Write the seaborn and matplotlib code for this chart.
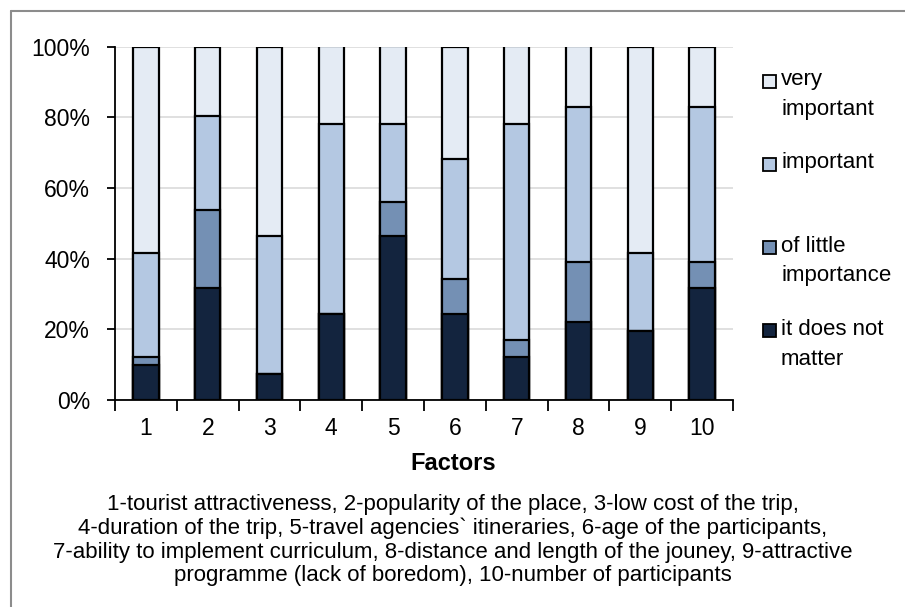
import matplotlib
matplotlib.use("Agg")
import matplotlib.pyplot as plt
from matplotlib.patches import Rectangle
from matplotlib.lines import Line2D
import numpy as np
import pandas as pd
import seaborn as sns

# Factor numbers on the x axis
factors = ["1", "2", "3", "4", "5", "6", "7", "8", "9", "10"]

# Share of answers (%) per importance level, bottom to top
not_matter = [9.8, 31.7, 7.3, 24.4, 46.3, 24.4, 12.2, 22.0, 19.5, 31.7]
little = [2.4, 22.0, 0.0, 0.0, 9.8, 9.8, 4.9, 17.1, 0.0, 7.3]
important = [29.3, 26.8, 39.0, 53.7, 22.0, 34.1, 61.0, 43.9, 22.0, 43.9]
very_important = [58.5, 19.5, 53.7, 22.0, 22.0, 31.7, 22.0, 17.1, 58.5, 17.1]

levels = ["it does not\nmatter", "of little\nimportance", "important", "very\nimportant"]
colors = ["#13243E", "#7490B4", "#B4C8E2", "#E4EBF4"]

caption = ("1-tourist attractiveness, 2-popularity of the place, 3-low cost of the trip,\n"
           "4-duration of the trip, 5-travel agencies` itineraries, 6-age of the participants,\n"
           "7-ability to implement curriculum, 8-distance and length of the jouney, 9-attractive\n"
           "programme (lack of boredom), 10-number of participants")

sns.set_theme(style="white")
plt.rcParams["font.family"] = ["Liberation Sans Narrow", "Liberation Sans", "DejaVu Sans"]
plt.rcParams["text.color"] = "black"
plt.rcParams["xtick.color"] = "black"
plt.rcParams["ytick.color"] = "black"

W, H = 905, 607
fig = plt.figure(figsize=(W / 100, H / 100), dpi=100)
ax = fig.add_axes([115 / W, 1 - 400 / H, (733 - 115) / W, (400 - 46.7) / H])

# Stacked bars: draw cumulative totals from the top level down
series = [not_matter, little, important, very_important]
cum = np.cumsum(np.array(series), axis=0)
for i in range(len(series) - 1, -1, -1):
    df = pd.DataFrame({"factor": factors, "value": cum[i]})
    sns.barplot(data=df, x="factor", y="value", color=colors[i], saturation=1,
                width=0.41, edgecolor="black", linewidth=1.6, ax=ax, zorder=3)

ax.set_ylim(0, 100)
ax.set_xlim(-0.5, len(factors) - 0.5)
ax.set_yticks(range(0, 101, 20))
ax.set_yticklabels([f"{v}%" for v in range(0, 101, 20)])
ax.yaxis.grid(True, color="#DADADA", linewidth=1.2, zorder=0)
ax.xaxis.grid(False)
ax.set_axisbelow(True)
for s in ["top", "right"]:
    ax.spines[s].set_visible(False)
for s in ["left", "bottom"]:
    ax.spines[s].set_color("black")
    ax.spines[s].set_linewidth(1.3)
ax.tick_params(axis="y", which="major", left=True, length=6, width=1.3, color="black",
               pad=12, labelsize=16.5, labelcolor="black")
ax.set_xticks(np.arange(len(factors)))
ax.set_xticklabels(factors)
ax.set_xticks(np.arange(-0.5, len(factors)), minor=True)
ax.tick_params(axis="x", which="major", bottom=False, length=0, pad=12, labelsize=16.5,
               labelcolor="black")
ax.tick_params(axis="x", which="minor", bottom=True, direction="out", length=8,
               width=1.3, color="black")
ax.set_xlabel("")
ax.set_ylabel("")

fig.text(453 / W, 1 - 463 / H, "Factors", ha="center", va="center",
         fontsize=17, fontweight="bold")
fig.text(453 / W, 1 - 540 / H, caption, ha="center", va="center",
         fontsize=16, linespacing=1.16)

# Legend, top entry first
leg_order = [3, 2, 1, 0]
for k, idx in enumerate(leg_order):
    yc = 81 + 83.3 * k
    fig.patches.append(Rectangle((763 / W, 1 - (yc + 6.5) / H), 13 / W, 13 / H,
                                 transform=fig.transFigure, facecolor=colors[idx],
                                 edgecolor="black", linewidth=1.3))
    fig.text(781 / W, 1 - (yc - 12) / H, levels[idx], ha="left", va="top",
             fontsize=16, linespacing=1.55)

# Outer frame (left and top edges)
fig.lines.append(Line2D([10.5 / W, 10.5 / W], [0, 1 - 10.5 / H],
                        transform=fig.transFigure, color="#8C8C8C", linewidth=1.5))
fig.lines.append(Line2D([10.5 / W, 1], [1 - 10.5 / H, 1 - 10.5 / H],
                        transform=fig.transFigure, color="#8C8C8C", linewidth=1.5))

fig.savefig("out.png", dpi=100, facecolor="white")
